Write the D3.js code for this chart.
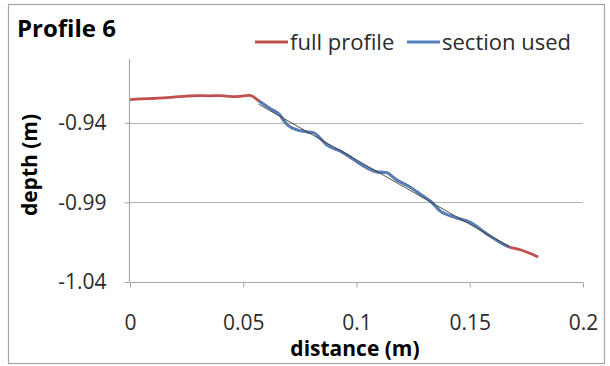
<!DOCTYPE html>
<html>
<head>
<meta charset="utf-8">
<script src="https://cdn.jsdelivr.net/npm/d3@7"></script>
<style>
  body { margin: 0; background: #fff; }
  text { font-family: "Open Sans", "Noto Sans", sans-serif; }
</style>
</head>
<body>
<script>
// full profile (red)
var fullDist = [0, 0.005, 0.010, 0.015, 0.020, 0.025, 0.030, 0.035, 0.040, 0.045, 0.050, 0.053, 0.0568,
  0.0626, 0.0661, 0.0683, 0.0700, 0.0736, 0.0780, 0.0811, 0.0837, 0.0868, 0.0934, 0.0956, 0.1022,
  0.1088, 0.1132, 0.1176, 0.1242, 0.1286, 0.1330, 0.1374, 0.1405, 0.1441, 0.1507, 0.1551, 0.1595,
  0.1639, 0.1674, 0.1727, 0.1762, 0.1802];
var fullDepth = [-0.9255, -0.9250, -0.9248, -0.9244, -0.9238, -0.9233, -0.9230, -0.9231, -0.9230, -0.9236, -0.9232, -0.9228, -0.9262,
  -0.9318, -0.9350, -0.9394, -0.9419, -0.9444, -0.9457, -0.9463, -0.9494, -0.9538, -0.9582, -0.9601, -0.9664,
  -0.9708, -0.9714, -0.9758, -0.9809, -0.9853, -0.9897, -0.9960, -0.9979, -0.9997, -1.0029, -1.0073, -1.0117,
  -1.0155, -1.0180, -1.0199, -1.0218, -1.0243];

// section used (blue)
var secDist = [0.0568, 0.0626, 0.0661, 0.0683, 0.0700, 0.0736, 0.0780, 0.0811, 0.0837, 0.0868, 0.0934, 0.0956, 0.1022,
  0.1088, 0.1132, 0.1176, 0.1242, 0.1286, 0.1330, 0.1374, 0.1405, 0.1441, 0.1507, 0.1551, 0.1595, 0.1639, 0.1674];
var secDepth = [-0.9262, -0.9318, -0.9350, -0.9394, -0.9419, -0.9444, -0.9457, -0.9463, -0.9494, -0.9538, -0.9582, -0.9601, -0.9664,
  -0.9708, -0.9714, -0.9758, -0.9809, -0.9853, -0.9897, -0.9960, -0.9979, -0.9997, -1.0029, -1.0073, -1.0117, -1.0155, -1.0180];

var xTicks = [0, 0.05, 0.1, 0.15, 0.2];
var yTicks = [-0.94, -0.99, -1.04];

var width = 610, height = 366;
var svg = d3.select("body").append("svg").attr("width", width).attr("height", height);

// chart frame
svg.append("rect").attr("x", 8.5).attr("y", 4.5).attr("width", 596).attr("height", 359)
  .attr("fill", "#fff").attr("stroke", "#a6a6a6").attr("stroke-width", 1.2);

var x = d3.scaleLinear().domain([0, 0.2]).range([130, 583]);
var y = d3.scaleLinear().domain([-1.04, -0.90]).range([282, 59]);

// gridlines
svg.append("g").selectAll("line").data(yTicks.slice(0, 2)).enter().append("line")
  .attr("x1", x(0)).attr("x2", x(0.2))
  .attr("y1", function(d) { return Math.round(y(d)) + 0.5; })
  .attr("y2", function(d) { return Math.round(y(d)) + 0.5; })
  .attr("stroke", "#b3b3b3").attr("stroke-width", 1.2);

var fmt = function(d) { return String(d); };
var xAxis = svg.append("g").attr("transform", "translate(0," + (y(-1.04) + 0.5) + ")")
  .call(d3.axisBottom(x).tickValues(xTicks).tickSize(5).tickPadding(28).tickFormat(fmt));
var yAxis = svg.append("g").attr("transform", "translate(" + (x(0) - 0.5) + ",0)")
  .call(d3.axisLeft(y).tickValues(yTicks).tickSize(5).tickPadding(18).tickFormat(fmt));

[xAxis, yAxis].forEach(function(a) {
  a.select(".domain").attr("stroke", "#a6a6a6").attr("stroke-width", 1.2);
  a.selectAll(".tick line").attr("stroke", "#a6a6a6");
  a.selectAll("text").attr("fill", "#2b2b2b").style("font-size", "21px")
    .style("font-family", "'Open Sans', sans-serif");
});
// axis lines without outer ticks
yAxis.select(".domain").attr("d", "M0," + y(-0.90) + "V" + y(-1.04));
xAxis.select(".domain").attr("d", "M" + x(0) + ",0H" + x(0.2));

var line = d3.line().x(function(d) { return x(d[0]); }).y(function(d) { return y(d[1]); }).curve(d3.curveMonotoneX);

svg.append("path").datum(d3.zip(fullDist, fullDepth)).attr("d", line)
  .attr("fill", "none").attr("stroke", "#c0504d").attr("stroke-width", 2.8).attr("stroke-linejoin", "round");
svg.append("path").datum(d3.zip(secDist, secDepth)).attr("d", line)
  .attr("fill", "none").attr("stroke", "#4f81bd").attr("stroke-width", 2.8).attr("stroke-linejoin", "round");

// linear fit through the section
var mx = d3.mean(secDist), my = d3.mean(secDepth);
var sxy = d3.sum(secDist, function(d, i) { return (d - mx) * (secDepth[i] - my); });
var sxx = d3.sum(secDist, function(d) { return (d - mx) * (d - mx); });
var slope = sxy / sxx, icpt = my - slope * mx;
var x0 = secDist[0], x1 = secDist[secDist.length - 1];
svg.append("line")
  .attr("x1", x(x0)).attr("y1", y(icpt + slope * x0))
  .attr("x2", x(x1)).attr("y2", y(icpt + slope * x1))
  .attr("stroke", "#3a3a3a").attr("stroke-width", 0.9);

// title
svg.append("text").attr("x", 17).attr("y", 37).style("font-size", "24px").style("font-weight", "bold")
  .attr("fill", "#000").text("Profile 6");

// legend
var legend = [{ label: "full profile", color: "#c0504d", x: 255 }, { label: "section used", color: "#4f81bd", x: 407 }];
legend.forEach(function(l) {
  svg.append("line").attr("x1", l.x).attr("x2", l.x + 33).attr("y1", 42).attr("y2", 42)
    .attr("stroke", l.color).attr("stroke-width", 2.8);
  svg.append("text").attr("x", l.x + 35).attr("y", 50).style("font-size", "22px").attr("fill", "#2b2b2b").text(l.label);
});

// axis titles
svg.append("text").attr("x", 355).attr("y", 356).attr("text-anchor", "middle")
  .style("font-size", "21px").style("font-weight", "bold").attr("fill", "#000").text("distance (m)");
svg.append("text").attr("transform", "translate(37,165) rotate(-90)").attr("text-anchor", "middle")
  .style("font-size", "21px").style("font-weight", "bold").attr("fill", "#000").text("depth (m)");
</script>
</body>
</html>
